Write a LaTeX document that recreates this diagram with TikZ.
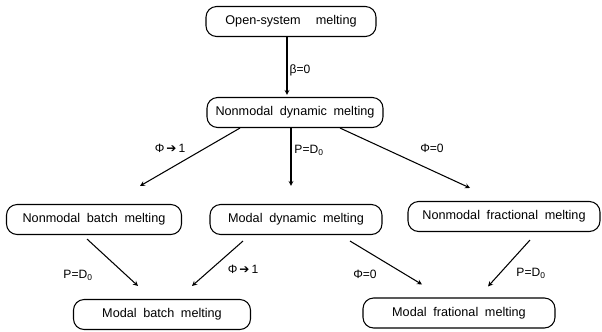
\documentclass[tikz,border=0pt]{standalone}
\usepackage{fontspec}
\setmainfont[WordSpace=1.9]{Liberation Sans}
\newfontfamily\arrowfont{DejaVu Sans}
\usetikzlibrary{calc}

\tikzstyle{main}  = [draw, line width=0.9pt, rounded corners=3.2mm, text centered, inner sep=0pt, minimum height=0.9cm, font=\fontsize{10.8}{12}\selectfont]
\tikzstyle{lbl}   = [inner sep=1pt, font=\fontsize{10.3}{12}\selectfont]
\tikzstyle{arr}   = [->, >=stealth, line width=0.9pt]

\begin{document}
\begin{tikzpicture}[x=0.03cm, y=-0.03cm]
     \useasboundingbox (0,0) rectangle (602,332);
     % boxes
     \node[main, minimum width=5.1cm]  (os) at (291, 21.5) {Open-system\hspace{1.2em}melting};
     \node[main, minimum width=5.28cm] (nd) at (295, 112.5) {Nonmodal dynamic melting};
     \node[main, minimum width=5.25cm] (nb) at ( 94, 219.5) {Nonmodal batch melting};
     \node[main, minimum width=5.16cm] (md) at (296, 219.5) {Modal dynamic melting};
     \node[main, minimum width=5.76cm] (nf) at (504, 216.5) {Nonmodal fractional melting};
     \node[main, minimum width=5.31cm] (mb) at (162, 314.5) {Modal batch melting};
     \node[main, minimum width=5.76cm] (mf) at (459, 313) {Modal frational melting};
     % arrows
     \draw[arr] ($(os.south)+(-4,0)$)  -- ($(nd.north)+(-8,-2)$);
     \draw[arr] ($(nd.south)+(-55,0)$) -- ($(nb.north)+(46,-18)$);
     \draw[arr] ($(nd.south)+(-4,0)$)  -- ($(md.north)+(-5,-18)$);
     \draw[arr] ($(nd.south)+(45,0)$)  -- ($(nf.north)+(-34,-13)$);
     \draw[arr] ($(nb.south)+(-7,4)$)  -- ($(mb.north)+(-24,-13)$);
     \draw[arr] ($(md.south)+(-53,6)$) -- ($(mb.north)+(30,-13)$);
     \draw[arr] ($(md.south)+(54,6)$)  -- ($(mf.north)+(-37,-13)$);
     \draw[arr] ($(nf.south)+(26,8)$)  -- ($(mf.north)+(29,-11)$);
     % conditions
     \node[lbl] (c1) at (300, 70)  {β=0};
     \node[lbl] (c2) at (170, 148) {Φ\,{\arrowfont ➔}\,1};
     \node[lbl] (c3) at (309, 150) {P=D\textsubscript{0}};
     \node[lbl] (c4) at (432, 148) {Φ=0};
     \node[lbl] (c5) at ( 78, 275) {P=D\textsubscript{0}};
     \node[lbl] (c6) at (243, 269) {Φ\,{\arrowfont ➔}\,1};
     \node[lbl] (c7) at (365, 274) {Φ=0};
     \node[lbl] (c8) at (531, 273) {P=D\textsubscript{0}};
\end{tikzpicture}
\end{document}
